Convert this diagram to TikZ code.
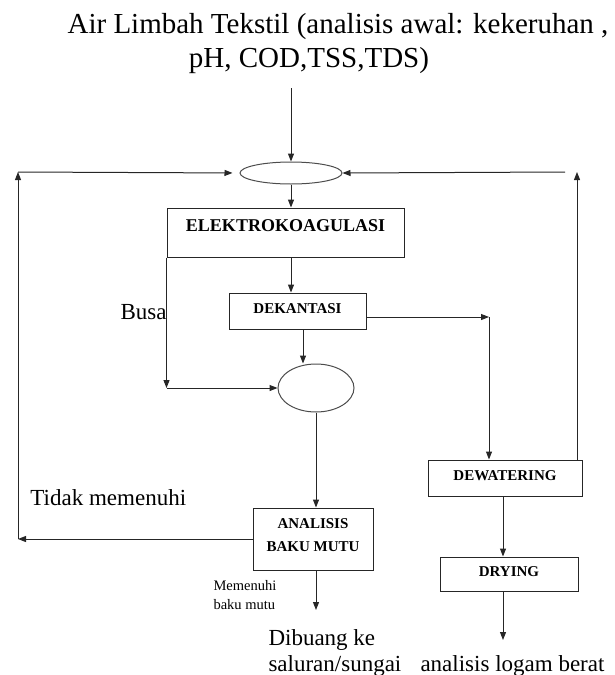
\documentclass[tikz,border=0pt]{standalone}
\usepackage{fontspec}
\setmainfont{Liberation Serif}
\usetikzlibrary{arrows.meta,shapes.geometric}
\begin{document}
\begin{tikzpicture}[x=1pt,y=-1pt,
  line width=1pt,
  arr/.style={draw=black!85,-{Triangle[length=8pt,width=6pt]}},
  box/.style={draw=black!85, rectangle, inner sep=0pt},
  boxtext/.style={anchor=north, inner sep=0pt, label distance=0pt, align=center, font=\bfseries\fontsize{15}{23}\selectfont},
  oval/.style={draw=black!70, ellipse, inner sep=0pt},
  txt/.style={inner sep=0pt, font=\fontsize{23}{27}\selectfont},
  small/.style={inner sep=0pt, font=\fontsize{14.5}{17}\selectfont},
]
\useasboundingbox (0,0) rectangle (614,675);

% title
\node[inner sep=0pt, anchor=base, font=\fontsize{29}{34}\selectfont] (t1) at (338,33) {Air Limbah Tekstil (analisis awal: kekeruhan ,};
\node[inner sep=0pt, anchor=base, font=\fontsize{29}{34}\selectfont] (t2) at (309,67) {pH, COD,TSS,TDS)};

% shapes
\node[oval, minimum width=102pt, minimum height=22pt] (e1) at (291,173) {};
\node[box, minimum width=237pt, minimum height=49pt,
      label={[boxtext, yshift=-12pt, font=\bfseries\fontsize{18}{21}\selectfont]north:ELEKTROKOAGULASI}] (elek) at (285.5,232.5) {};
\node[box, minimum width=137pt, minimum height=36pt,
      label={[boxtext, yshift=-10.5pt]north:DEKANTASI}] (dek) at (297.5,311) {};
\node[oval, minimum width=76pt, minimum height=48pt] (circ) at (316,388) {};
\node[box, minimum width=120pt, minimum height=62pt,
      label={[boxtext, yshift=-10.5pt]north:ANALISIS\\BAKU MUTU}] (ana) at (313,539) {};
\node[box, minimum width=154pt, minimum height=36pt,
      label={[boxtext, yshift=-11pt]north:DEWATERING}] (dew) at (505,478) {};
\node[box, minimum width=138pt, minimum height=34pt,
      label={[boxtext, yshift=-10pt]north:DRYING}] (dry) at (509,574) {};

% texts
\node[txt, anchor=base east] (busa) at (167,319) {Busa};
\node[txt, anchor=base west] (tidak) at (30,505) {Tidak memenuhi};
\node[small, anchor=base west] (mem1) at (213,590) {Memenuhi};
\node[small, anchor=base west] (mem2) at (213,609) {baku mutu};
\node[txt, anchor=base west] (dib1) at (268,645) {Dibuang ke};
\node[txt, anchor=base west] (dib2) at (268,671) {saluran/sungai};
\node[txt, anchor=base west] (logam) at (420,671) {analisis logam berat};

% coordinates
\coordinate (s0) at (291,88);
\coordinate (dx) at (303,0);
\coordinate (c1) at (489,317);
\coordinate (lc) at (18,172);
\coordinate (rc) at (577,172);
\coordinate (rh) at (565,172);
\coordinate (dx2) at (503,0);
\coordinate (outA) at (316,610);
\coordinate (outB) at (503,640);

% connectors
\draw[arr] (s0) -- (e1.north);
\draw[arr] (e1.south) -- (e1.south |- elek.north);
\draw[arr] (e1.south |- elek.south) -- (e1.south |- dek.north);
\draw[arr] (elek.south west) -- (elek.south west |- circ.west);
\draw[arr] (elek.south west |- circ.west) -- (circ.west);
\draw[arr] (dx |- dek.south) -- (dx |- circ.north);
\draw[arr] (c1 -| dek.east) -- (c1);
\draw[arr] (c1) -- (c1 |- dew.north);
\draw[arr] (circ.south) -- (circ.south |- ana.north);
\draw[arr] (ana.west) -- (lc |- ana.west);
\draw[arr] (lc |- ana.west) -- (lc);
\draw[arr, shorten >=7pt] (lc) -- (e1.west);
\draw[arr] (rc |- dew.north) -- (rc);
\draw[arr] (rh) -- (e1.east);
\draw[arr] (dx2 |- dew.south) -- (dx2 |- dry.north);
\draw[arr] (dx2 |- dry.south) -- (outB);
\draw[arr] (circ.south |- ana.south) -- (outA);
\end{tikzpicture}
\end{document}
